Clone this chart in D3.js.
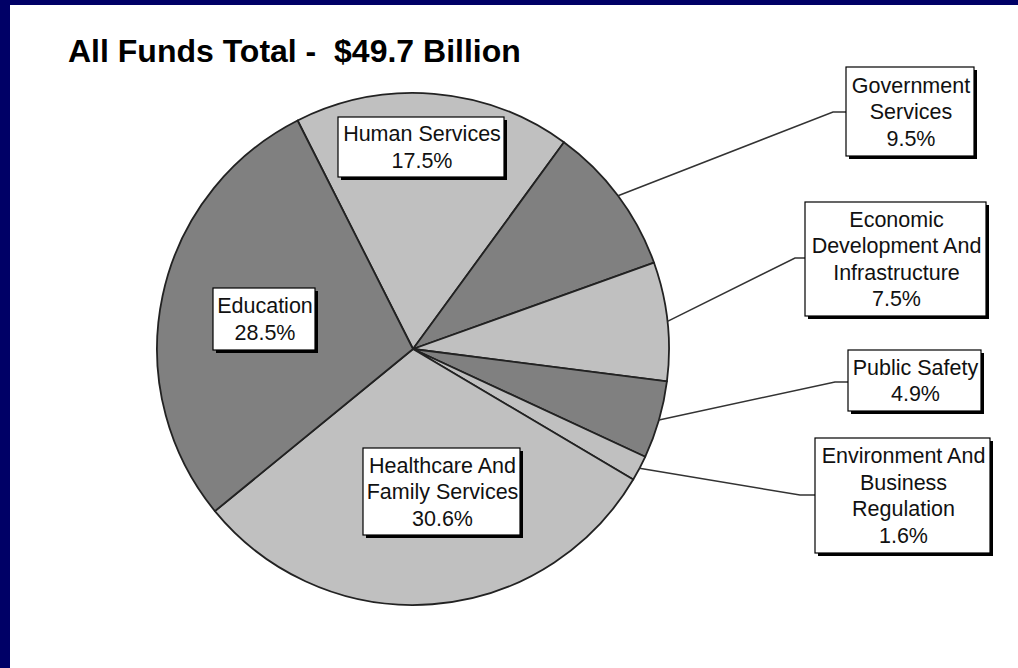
<!DOCTYPE html>
<html>
<head>
<meta charset="utf-8">
<script src="https://cdn.jsdelivr.net/npm/d3@7"></script>
<style>
  html, body { margin: 0; padding: 0; background: #000066; }
  svg { display: block; }
</style>
</head>
<body>
<svg id="chart" width="1018" height="668"></svg>
<script>
// Budget shares by program area (percent of all funds)
const categories = [
  "Human Services",
  "Government Services",
  "Economic Development And Infrastructure",
  "Public Safety",
  "Environment And Business Regulation",
  "Healthcare And Family Services",
  "Education"
];
const shares = [17.5, 9.5, 7.5, 4.9, 1.6, 30.6, 28.5];
const labelLines = [
  ["Human Services"],
  ["Government", "Services"],
  ["Economic", "Development And", "Infrastructure"],
  ["Public Safety"],
  ["Environment And", "Business", "Regulation"],
  ["Healthcare And", "Family Services"],
  ["Education"]
];
const title = "All Funds Total -  $49.7 Billion";

// Slice fills alternate between two grays
const fills = ["#c0c0c0", "#808080", "#c0c0c0", "#808080", "#c0c0c0", "#c0c0c0", "#808080"];

// Label box placement: [x, y, w, h] and, for outside labels, the elbow of the leader line
const boxes = [
  { box: [338, 117, 166, 60] },
  { box: [846, 67, 128, 89], elbow: [833, 112] },
  { box: [805, 202, 181, 114], elbow: [795, 258] },
  { box: [848, 350, 133, 61], elbow: [835, 382] },
  { box: [815, 438, 175, 115], elbow: [800, 495] },
  { box: [363, 448, 157, 87] },
  { box: [213, 288, 102, 62] }
];

const svg = d3.select("#chart");
const W = 1018, H = 668;

// White page inside the navy frame
svg.append("rect")
  .attr("x", 10).attr("y", 5)
  .attr("width", W - 10).attr("height", H - 5)
  .attr("fill", "#ffffff");

svg.append("text")
  .attr("x", 68).attr("y", 62)
  .attr("font-family", "Liberation Sans, Arial, sans-serif")
  .attr("font-weight", "bold")
  .attr("font-size", 32)
  .attr("fill", "#000")
  .style("white-space", "pre")
  .text(title);

const cx = 413, cy = 349, R = 256;
const startDeg = -26.8;

const pie = d3.pie()
  .sort(null)
  .value(d => d)
  .startAngle(startDeg * Math.PI / 180)
  .endAngle((startDeg + 360) * Math.PI / 180);

const arcs = pie(shares);
const arc = d3.arc().innerRadius(0).outerRadius(R);

const g = svg.append("g").attr("transform", `translate(${cx},${cy})`);

g.selectAll("path.slice")
  .data(arcs)
  .join("path")
  .attr("class", "slice")
  .attr("d", arc)
  .attr("fill", (d, i) => fills[i])
  .attr("stroke", "#222")
  .attr("stroke-width", 1.8)
  .attr("stroke-linejoin", "round");

// Leader lines from the rim of small slices to their outside labels
arcs.forEach((d, i) => {
  const L = boxes[i];
  if (!L.elbow) return;
  const mid = (d.startAngle + d.endAngle) / 2;
  const px = cx + R * Math.sin(mid);
  const py = cy - R * Math.cos(mid);
  svg.append("polyline")
    .attr("points", `${px},${py} ${L.elbow[0]},${L.elbow[1]} ${L.box[0]},${L.elbow[1]}`)
    .attr("fill", "none")
    .attr("stroke", "#333")
    .attr("stroke-width", 1.5);
});

// Label boxes with a hard drop shadow
arcs.forEach((d, i) => {
  const [x, y, w, h] = boxes[i].box;
  const lb = svg.append("g");
  lb.append("rect")
    .attr("x", x + 3).attr("y", y + 3)
    .attr("width", w).attr("height", h)
    .attr("fill", "#000");
  lb.append("rect")
    .attr("x", x).attr("y", y)
    .attr("width", w).attr("height", h)
    .attr("fill", "#fff")
    .attr("stroke", "#000")
    .attr("stroke-width", 1.2);
  const lines = labelLines[i].concat([d3.format(".1f")(d.data) + "%"]);
  const lh = 26.5;
  const top = y + h / 2 - (lines.length - 1) * lh / 2;
  lines.forEach((t, k) => {
    lb.append("text")
      .attr("x", x + w / 2 + 1)
      .attr("y", top + k * lh)
      .attr("dy", "0.36em")
      .attr("text-anchor", "middle")
      .attr("font-family", "Liberation Sans, Arial, sans-serif")
      .attr("font-size", 21.5)
      .attr("fill", "#111")
      .text(t);
  });
});
</script>
</body>
</html>
